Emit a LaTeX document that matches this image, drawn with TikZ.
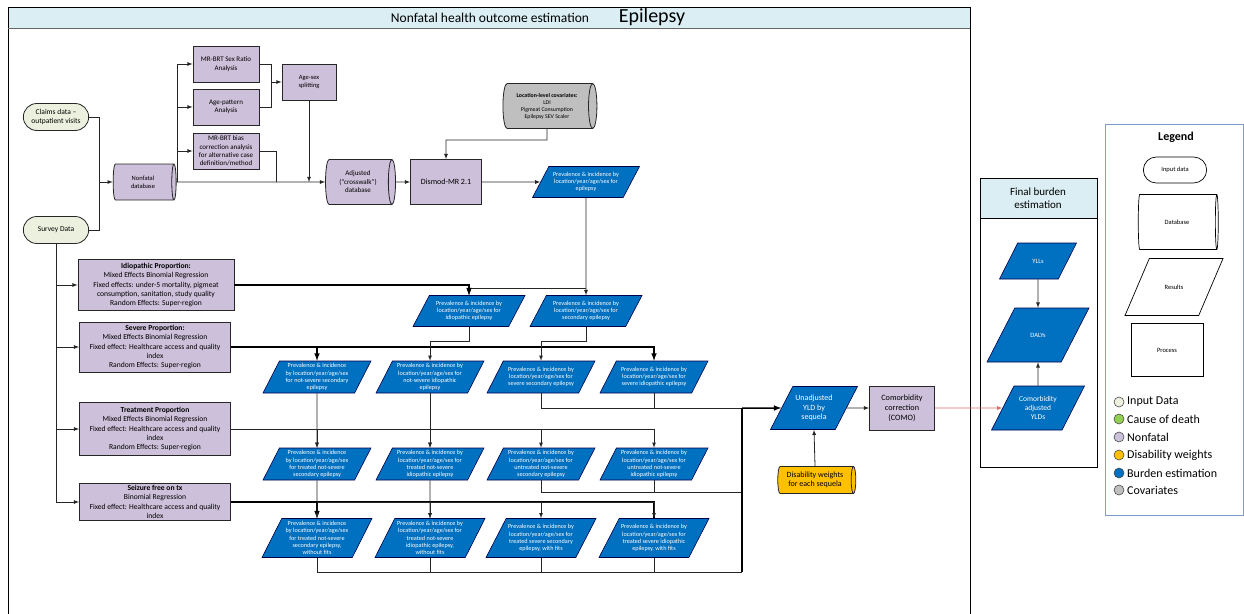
\documentclass[tikz,border=0pt]{standalone}
\usepackage{fontspec}
\setmainfont{Carlito}
\usetikzlibrary{arrows,positioning,calc,shapes.geometric,shapes.misc}

\definecolor{nfpurple}{HTML}{CCC0DA}
\definecolor{burdenblue}{HTML}{0070C0}
\definecolor{inputgreen}{HTML}{EBF1DE}
\definecolor{dwyellow}{HTML}{FFC000}
\definecolor{covgray}{HTML}{BFBFBF}
\definecolor{titleblue}{HTML}{DAEEF3}
\definecolor{deathgreen}{HTML}{92D050}
\definecolor{legendblue}{HTML}{7F9DC8}
\definecolor{comored}{HTML}{E06C6C}

\begin{document}
\begin{tikzpicture}[x=1pt,y=-1pt,>=latex,
  proc/.style={draw=black!85,line width=0.8pt,fill=nfpurple,align=center,inner sep=1pt},
  dbase/.style={cylinder,draw=black!85,line width=0.8pt,fill=nfpurple,align=center,shape aspect=0.3,inner sep=1pt},
  res/.style={trapezium,trapezium left angle=62,trapezium right angle=118,trapezium stretches body=true,
    draw=black!70!blue,line width=0.6pt,fill=burdenblue,text=white,align=center,inner xsep=0.5pt,inner ysep=2pt,
    font=\fontsize{6.2}{7.2}\selectfont},
  resthree/.style={res,inner ysep=5.5pt},
  indata/.style={rounded rectangle,draw=black!85,line width=0.8pt,fill=inputgreen,align=center,
    minimum width=72,minimum height=27,font=\fontsize{7.5}{9}\selectfont},
  propbox/.style={proc,font=\fontsize{7.6}{9.4}\selectfont,minimum width=151},
  smallproc/.style={proc,font=\fontsize{7}{8.4}\selectfont,minimum width=66,minimum height=36},
  conn/.style={line width=0.8pt,draw=black!85},
  thickconn/.style={line width=1.5pt,draw=black},
  legshape/.style={draw=black,line width=0.7pt,fill=white,align=center,font=\fontsize{6.5}{7.5}\selectfont},
  legdot/.style={circle,draw=black!70,line width=0.6pt,minimum size=10,inner sep=0pt},
  legtext/.style={anchor=west,inner sep=0pt,font=\fontsize{12}{14}\selectfont}]
\useasboundingbox (0,0) rectangle (1244,613);

% frames
\fill[titleblue] (8,7) rectangle (970,28);
\draw[line width=0.8pt] (8,7) rectangle (970,620);
\draw[black!60,line width=1pt] (8,28) -- (970,28);
\node[font=\fontsize{13.5}{15}\selectfont] (ttl) at (490,17.5) {Nonfatal health outcome estimation};
\node[font=\fontsize{20}{22}\selectfont] (ttlepi) at (652,17.5) {Epilepsy};

\fill[titleblue] (980,178) rectangle (1097,218);
\draw[line width=0.8pt] (980,178) rectangle (1097,467);
\draw[line width=0.8pt] (980,218) -- (1097,218);
\node[align=center,font=\fontsize{11}{13}\selectfont] (ttlfinal) at (1038,198) {Final burden\\estimation};

% inputs and data processing
\node[indata] (claims) at (56,117) {Claims data --\\outpatient visits};
\node[indata] (survey) at (56,230) {Survey Data};
\node[dbase,minimum height=63,minimum width=36,font=\fontsize{6.5}{8}\selectfont] (nfdb) at (143,182) {Nonfatal\\database};
\node[smallproc] (mrsex) at (226,64) {MR-BRT Sex Ratio\\Analysis};
\node[smallproc] (agepat) at (226,107) {Age-pattern\\Analysis};
\node[smallproc] (mrbias) at (226,151) {MR-BRT bias\\correction analysis\\for alternative case\\definition/method};
\node[smallproc,minimum width=54,font=\fontsize{6.5}{8}\selectfont] (agesex) at (309,82) {Age-sex\\splitting};
\node[dbase,minimum height=70,minimum width=45,font=\fontsize{7}{8.5}\selectfont] (adjdb) at (358,182) {Adjusted\\(``crosswalk'')\\database};
\node[proc,minimum width=71,minimum height=45,font=\fontsize{8}{10}\selectfont] (dismod) at (446,182) {Dismod-MR 2.1};
\node[dbase,fill=covgray,minimum height=94,minimum width=45,font=\fontsize{5.8}{7}\selectfont] (cov) at (547,106)
  {\textbf{Location-level covariates:}\\LDI\\Pigmeat Consumption\\Epilepsy SEV Scaler};
\node[resthree,minimum width=107,minimum height=31] (prevepi) at (586,182)
  {Prevalence \& incidence by\\location/year/age/sex for\\epilepsy};

% proportion models
\node[propbox,minimum width=156,minimum height=51] (idio) at (156,285)
  {\textbf{Idiopathic Proportion:}\\Mixed Effects Binomial Regression\\Fixed effects: under-5 mortality, pigmeat\\consumption, sanitation, study quality\\Random Effects: Super-region};
\node[propbox,minimum height=50] (severe) at (155,347)
  {\textbf{Severe Proportion:}\\Mixed Effects Binomial Regression\\Fixed effect: Healthcare access and quality\\index\\Random Effects: Super-region};
\node[propbox,minimum height=53] (treat) at (155,429)
  {\textbf{Treatment Proportion}\\Mixed Effects Binomial Regression\\Fixed effect: Healthcare access and quality\\index\\Random Effects: Super-region};
\node[propbox,minimum height=37] (seiz) at (155,502)
  {\textbf{Seizure free on tx}\\Binomial Regression\\Fixed effect: Healthcare access and quality\\index};

% results
\node[resthree,minimum width=112,minimum height=31] (previdio) at (469,311)
  {Prevalence \& incidence by\\location/year/age/sex for\\idiopathic epilepsy};
\node[resthree,minimum width=112,minimum height=31] (prevsec) at (586,311)
  {Prevalence \& incidence by\\location/year/age/sex for\\secondary epilepsy};

\node[res,minimum width=108,minimum height=32] (r2a) at (317,377)
  {Prevalence \& incidence\\by location/year/age/sex\\for not-severe secondary\\epilepsy};
\node[res,minimum width=108,minimum height=32] (r2b) at (430,377)
  {Prevalence \& incidence by\\location/year/age/sex for\\not-severe idiopathic\\epilepsy};
\node[resthree,minimum width=108,minimum height=32] (r2c) at (541,377)
  {Prevalence \& incidence by\\location/year/age/sex for\\severe secondary epilepsy};
\node[resthree,minimum width=108,minimum height=32] (r2d) at (654,377)
  {Prevalence \& incidence by\\location/year/age/sex for\\severe idiopathic epilepsy};

\node[res,minimum width=108,minimum height=32] (r3a) at (317,464)
  {Prevalence \& incidence\\by location/year/age/sex\\for treated not-severe\\secondary epilepsy};
\node[res,minimum width=108,minimum height=32] (r3b) at (430,464)
  {Prevalence \& incidence by\\location/year/age/sex for\\treated not-severe\\idiopathic epilepsy};
\node[res,minimum width=108,minimum height=32] (r3c) at (541,464)
  {Prevalence \& incidence by\\location/year/age/sex for\\untreated not-severe\\secondary epilepsy};
\node[res,minimum width=108,minimum height=32] (r3d) at (654,464)
  {Prevalence \& incidence by\\location/year/age/sex for\\untreated not-severe\\idiopathic epilepsy};

\node[res,minimum width=110,minimum height=39] (r4a) at (317,538)
  {Prevalence \& incidence\\by location/year/age/sex\\for treated not-severe\\secondary epilepsy,\\without fits};
\node[res,minimum width=110,minimum height=39] (r4b) at (430,538)
  {Prevalence \& incidence by\\location/year/age/sex for\\treated not-severe\\idiopathic epilepsy,\\without fits};
\node[res,inner ysep=5.5pt,minimum width=110,minimum height=39] (r4c) at (541,538)
  {Prevalence \& incidence by\\location/year/age/sex for\\treated severe secondary\\epilepsy, with fits};
\node[res,inner ysep=5.5pt,minimum width=110,minimum height=39] (r4d) at (654,538)
  {Prevalence \& incidence by\\location/year/age/sex for\\treated severe idiopathic\\epilepsy, with fits};

% YLD part
\node[res,inner ysep=8pt,minimum width=87,minimum height=43,font=\fontsize{8}{9.5}\selectfont] (yld) at (814,408) {Unadjusted\\YLD by\\sequela};
\node[proc,minimum width=65,minimum height=44,font=\fontsize{8.2}{10}\selectfont] (como) at (902,408) {Comorbidity\\correction\\(COMO)};
\node[dbase,fill=dwyellow,shape aspect=0.25,minimum height=78,minimum width=27,font=\fontsize{8}{9.5}\selectfont] (dw) at (815,480) {Disability weights\\for each sequela};

% final burden
\node[res,inner ysep=15pt,minimum width=77,minimum height=36,font=\fontsize{6.5}{7.5}\selectfont] (ylls) at (1038,261) {YLLs};
\node[res,inner ysep=24pt,minimum width=102,minimum height=54,font=\fontsize{6.5}{7.5}\selectfont] (dalys) at (1038,335) {DALYs};
\node[res,inner ysep=9.5pt,minimum width=93,minimum height=44,font=\fontsize{7.5}{9}\selectfont] (cyld) at (1038,408) {Comorbidity\\adjusted\\YLDs};

% junctions
\coordinate (jin) at (99,182);
\coordinate (jnf) at (177,182);
\coordinate (jas) at (271,82);
\coordinate (jbias) at (276,182);
\coordinate (jcov) at (547,140);
\coordinate (jepi) at (586,288);
\coordinate (jsurv) at (56,497);
\coordinate (jyld1) at (742,408);
\coordinate (jyld2) at (742,492);
\coordinate (jyld3) at (742,572);

% connectors
\draw[conn] (claims.east) -| (jin);
\draw[conn] (survey.east) -| (jin);
\draw[conn,->] (jin) -- (nfdb.west);
\draw[conn] (nfdb.east) -- (jnf);
\draw[conn,->] (jnf) |- (mrsex.west);
\draw[conn,->] (jnf) |- (agepat.west);
\draw[conn,->] (jnf) |- (mrbias.west);
\draw[conn,->] (nfdb.east) -- (adjdb.west);
\draw[conn] (mrsex.east) -| (jas);
\draw[conn] (agepat.east) -| (jas);
\draw[conn,->] (jas) -- (agesex.west);
\draw[conn,->] (agesex.south) -- (agesex.south |- jnf);
\draw[conn] (mrbias.east) -| (jbias);
\draw[conn,->] (adjdb.east) -- (dismod.west);
\draw[conn,->] (cov.south) -- (jcov) -| (dismod.north);
\draw[conn,->] (dismod.east) -- (prevepi.west);

\draw[conn] (survey.south) -- (jsurv);
\draw[conn,->] (survey.south) |- (idio.west);
\draw[conn,->] (survey.south) |- (severe.west);
\draw[conn,->] (survey.south) |- (treat.west);
\draw[conn,->] (survey.south) |- (seiz.west);

\draw[conn] (prevepi.south) -- (jepi);
\draw[conn,->] (jepi) -| (previdio.north);
\draw[conn,->] (jepi) -- (prevsec.north);
\draw[thickconn,->] (idio.east) -| (previdio.north);

\draw[thickconn,->] (severe.east) -| (r2a.north);
\draw[thickconn,->] (severe.east) -| (r2d.north);
\draw[conn,->] (previdio.south) -- ++(0,15) -| (r2b.north);
\draw[conn,->] (prevsec.south) -- ++(0,15) -| (r2c.north);

\draw[conn,->] (treat.east) -| (r3a.north);
\draw[conn,->] (treat.east) -| (r3b.north);
\draw[conn,->] (treat.east) -| (r3c.north);
\draw[conn,->] (treat.east) -| (r3d.north);
\draw[conn,->] (r2a.south) -- (r3a.north);
\draw[conn,->] (r2b.south) -- (r3b.north);

\draw[conn,->] (seiz.east) -| (r4b.north);
\draw[conn,->] (seiz.east) -| (r4c.north);
\draw[thickconn] (seiz.east) -| (r4d.north);
\draw[conn,->] (seiz.east) -| (r4d.north);
\draw[thickconn,->] (seiz.east) -| (r4a.north);
\draw[conn,->] (r3a.south) -- (r4a.north);
\draw[conn,->] (r3b.south) -- (r4b.north);

\draw[conn] (r2c.south) |- (jyld1);
\draw[conn] (r2d.south) |- (jyld1);
\draw[conn] (r3c.south) |- (jyld2);
\draw[conn] (r3d.south) |- (jyld2);
\draw[conn] (r4a.south) |- (jyld3);
\draw[conn] (r4b.south) |- (jyld3);
\draw[conn] (r4c.south) |- (jyld3);
\draw[conn] (r4d.south) |- (jyld3);
\draw[thickconn] (jyld3) -- (jyld1);
\draw[thickconn,->] (jyld1) -- (yld.west);

\draw[conn,->] (dw.north) -- (yld.south);
\draw[conn,->] (yld.east) -- (como.west);
\draw[line width=0.8pt,comored,->] (como.east) -- (cyld.west);
\draw[conn,->] (ylls.south) -- (dalys.north);
\draw[conn,->] (cyld.north) -- (dalys.south);

% legend
\draw[legendblue,line width=0.8pt] (1105,124) rectangle (1243,515);
\node[font=\bfseries\fontsize{12}{14}\selectfont] (legttl) at (1176,137) {Legend};
\node[legshape,rounded rectangle,minimum width=70,minimum height=26] (leginput) at (1175,170) {Input data};
\node[legshape,cylinder,shape aspect=0.26,minimum height=80,minimum width=55] (legdb) at (1177,222) {Database};
\node[legshape,trapezium,trapezium left angle=66,trapezium right angle=114,trapezium stretches body=true,
  inner ysep=25pt,minimum width=98,minimum height=57] (legres) at (1174,287) {Results};
\node[legshape,minimum width=72,minimum height=53] (legproc) at (1167,350) {Process};

\node[legdot,fill=inputgreen] (dot1) at (1119,402) {};
\node[legtext] (lab1) at (1127,402) {Input Data};
\node[legdot,fill=deathgreen] (dot2) at (1119,419) {};
\node[legtext] (lab2) at (1127,419) {Cause of death};
\node[legdot,fill=nfpurple] (dot3) at (1119,437) {};
\node[legtext] (lab3) at (1127,437) {Nonfatal};
\node[legdot,fill=dwyellow] (dot4) at (1119,455) {};
\node[legtext] (lab4) at (1127,455) {Disability weights};
\node[legdot,fill=burdenblue] (dot5) at (1119,473) {};
\node[legtext] (lab5) at (1127,473) {Burden estimation};
\node[legdot,fill=covgray] (dot6) at (1119,490) {};
\node[legtext] (lab6) at (1127,490) {Covariates};
\end{tikzpicture}
\end{document}
